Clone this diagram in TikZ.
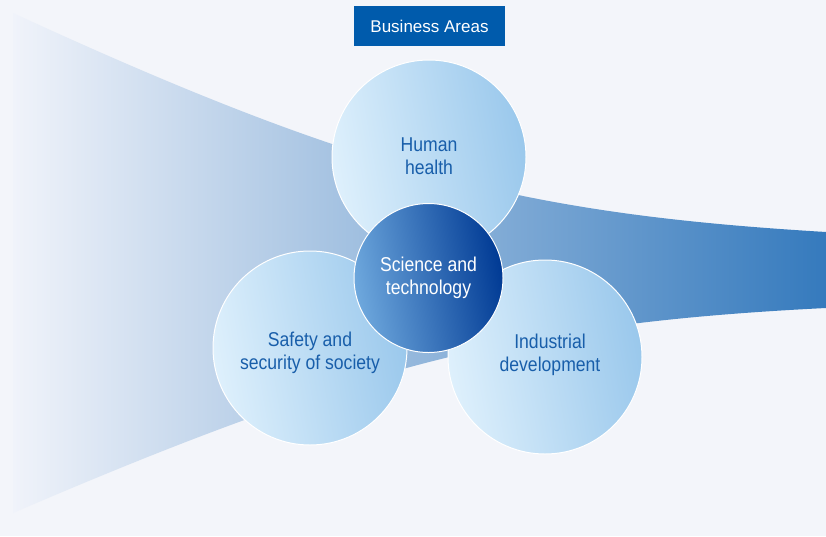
\documentclass[tikz,border=0pt]{standalone}
\usepackage{fontspec}
\setmainfont{Liberation Sans}
\newfontfamily\condfont{Liberation Sans}[FakeStretch=0.88]
\definecolor{bgc}{RGB}{243,245,250}
\definecolor{funL}{RGB}{240,243,250}
\definecolor{funR}{RGB}{53,122,189}
\definecolor{circL}{RGB}{222,240,252}
\definecolor{circR}{RGB}{154,200,236}
\definecolor{sciL}{RGB}{110,168,221}
\definecolor{sciR}{RGB}{0,58,148}
\definecolor{txtblue}{RGB}{24,94,170}
\definecolor{boxblue}{RGB}{0,91,172}
\tikzset{
  areacircle/.style={draw=white, line width=1pt, left color=circL, right color=circR, shading angle=100},
  scicircle/.style={draw=white, line width=1pt, left color=sciL, right color=sciR, shading angle=100},
  areatext/.style={font=\condfont\fontsize{20}{23}\selectfont, text=txtblue, align=center},
  scitext/.style={font=\condfont\fontsize{20}{23}\selectfont, text=white, align=center},
  titlebox/.style={fill=boxblue, text=white, font=\fontsize{17}{19}\selectfont, minimum width=151pt, minimum height=40pt, inner sep=0pt}
}
\begin{document}
\begin{tikzpicture}[x=1pt,y=-1pt]
\useasboundingbox (0,0) rectangle (826,536);
\fill[bgc] (0,0) rectangle (826,536);
% funnel
\shade[left color=funL, right color=funR]
  (13,13) .. controls (363,174) and (526,214) .. (826,232)
  -- (826,308) .. controls (526,323) and (363,362.5) .. (13,513) -- cycle;
% title
\node[titlebox] (title) at (429.5,26) {Business Areas};
% circles
\path[areacircle] (429,157) circle (97);
\path[areacircle] (310,348) circle (97);
\path[areacircle] (545,357) circle (97);
\path[scicircle] (428.5,278) circle (74.5);
\node[areatext] (human) at (429,156) {Human\\health};
\node[areatext] (safety) at (310,353) {Safety and\\security of society};
\node[areatext] (industrial) at (550,355) {Industrial\\development};
\node[scitext] (science) at (428.5,278) {Science and\\technology};
\end{tikzpicture}
\end{document}
